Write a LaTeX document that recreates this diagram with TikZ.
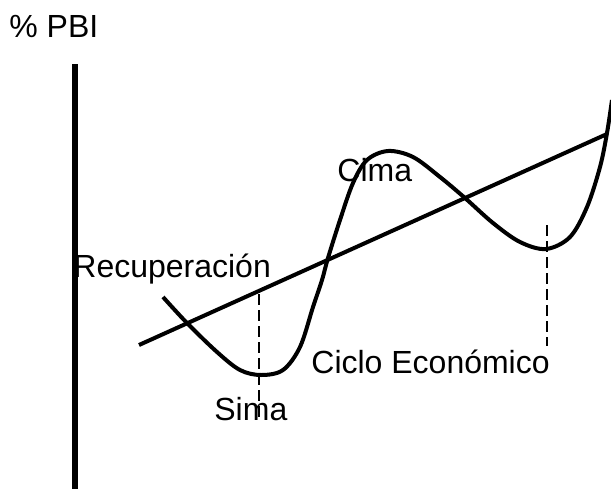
\documentclass[tikz,border=0pt]{standalone}
\usepackage{fontspec}
\setmainfont{Liberation Sans}
\usetikzlibrary{positioning}

\begin{document}
\begin{tikzpicture}[x=0.5pt, y=-0.5pt]
% STYLES
\tikzset{
    lbl/.style={anchor=base west, inner sep=0pt,
    font=\fontsize{16}{19}\selectfont},
    ciclo/.style={line width=2pt, line join=round},
    guia/.style={line width=1.2pt, dash pattern=on 5.5pt off 2.5pt}
}
\useasboundingbox (0,0) rectangle (611,488);

% axis and its title
\draw[line width=3.3pt] (75,64) -- (75,492);
\node[lbl] (PBI) at (9,37.5) {\% PBI};

% trend line
\coordinate (TrendA) at (139,345);
\coordinate (TrendB) at (607,134);
\draw[ciclo] (TrendA) -- (TrendB);

% the cycle
\draw[ciclo] plot[smooth, tension=0.55] coordinates {
  (163,297) (187,323) (217,352) (240,370) (261,375) (283,370)
  (300,347) (313,307) (322,280) (328,258) (340,220) (353,183)
  (367,160) (388,151) (413,157) (440,177) (465,198) (493,223)
  (520,242) (546,249) (570,237) (587,207) (600,167) (607,133)
  (612,100)};

% dashed marks
\coordinate (SimaTop) at (259,294);
\coordinate (SimaBot) at (259,418);
\coordinate (CicloTop) at (547,225);
\coordinate (CicloBot) at (547,346);
\draw[guia] (SimaTop) -- (SimaBot);
\draw[guia] (CicloTop) -- (CicloBot);

% labels
\node[lbl] (Cima) at (337,181) {Cima};
\node[lbl] (Recuperacion) at (73,277) {Recuperación};
\node[lbl] (Sima) at (214,420) {Sima};
\node[lbl] (Ciclo) at (311,373) {Ciclo Económico};
\end{tikzpicture}
\end{document}
